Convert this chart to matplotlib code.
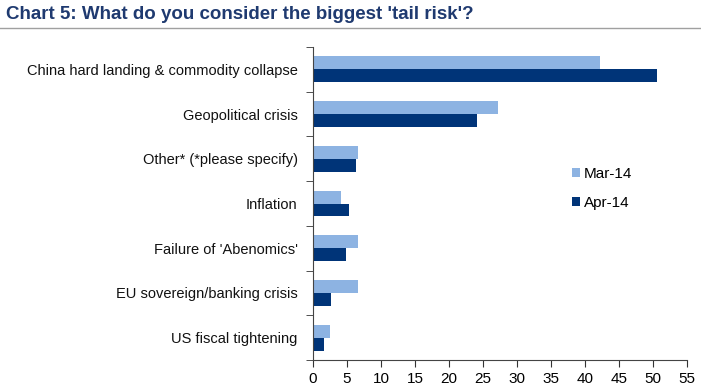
import matplotlib.pyplot as plt
import numpy as np
from matplotlib.lines import Line2D

plt.rcParams['font.family'] = ['Liberation Sans', 'DejaVu Sans']

categories = ["China hard landing & commodity collapse", "Geopolitical crisis",
              "Other* (*please specify)", "Inflation", "Failure of 'Abenomics'",
              "EU sovereign/banking crisis", "US fiscal tightening"]
mar14 = [42.2, 27.2, 6.6, 4.1, 6.6, 6.6, 2.5]
apr14 = [50.6, 24.1, 6.3, 5.3, 4.8, 2.7, 1.6]
xticks = list(range(0, 56, 5))

light = '#8DB3E2'
dark = '#003478'

fig = plt.figure(figsize=(7.01, 3.92), dpi=100)
ax = fig.add_axes([313 / 701, 1 - 360 / 392, 374 / 701, 313 / 392])

y = np.arange(len(categories))
h = 0.29
ax.barh(y - h / 2, mar14, height=h, color=light, label='Mar-14')
ax.barh(y + h / 2, apr14, height=h, color=dark, label='Apr-14')

ax.set_ylim(len(categories) - 0.5, -0.5)
ax.set_xlim(0, 55)
ax.set_xticks(xticks)
ax.set_yticks(y)
ax.set_yticklabels(categories, fontsize=10.5, color='#111111')
ax.set_yticks(np.arange(-0.5, len(categories)), minor=True)
ax.tick_params(axis='y', which='major', length=0, pad=11)
ax.tick_params(axis='y', which='minor', length=5, direction='out', color='#333333')
ax.tick_params(axis='x', length=5, direction='out', labelsize=11, color='#333333')
for s in ['top', 'right']:
    ax.spines[s].set_visible(False)
for s in ['left', 'bottom']:
    ax.spines[s].set_color('#444444')

ax.legend(loc='upper left', bbox_to_anchor=(0.655, 0.66), frameon=False,
          fontsize=11, handlelength=0.55, handleheight=0.55, handletextpad=0.25,
          labelspacing=0.95)

fig.text(0.008, 0.985, "Chart 5: What do you consider the biggest 'tail risk'?",
         fontsize=13.5, fontweight='bold', color='#1F3A70', va='top', ha='left',
         family=['Liberation Sans Narrow', 'Liberation Sans', 'DejaVu Sans'])
fig.add_artist(Line2D([0, 1], [1 - 28 / 392, 1 - 28 / 392], color='#A0A0A0', lw=1))

fig.savefig('out.png', dpi=100)
